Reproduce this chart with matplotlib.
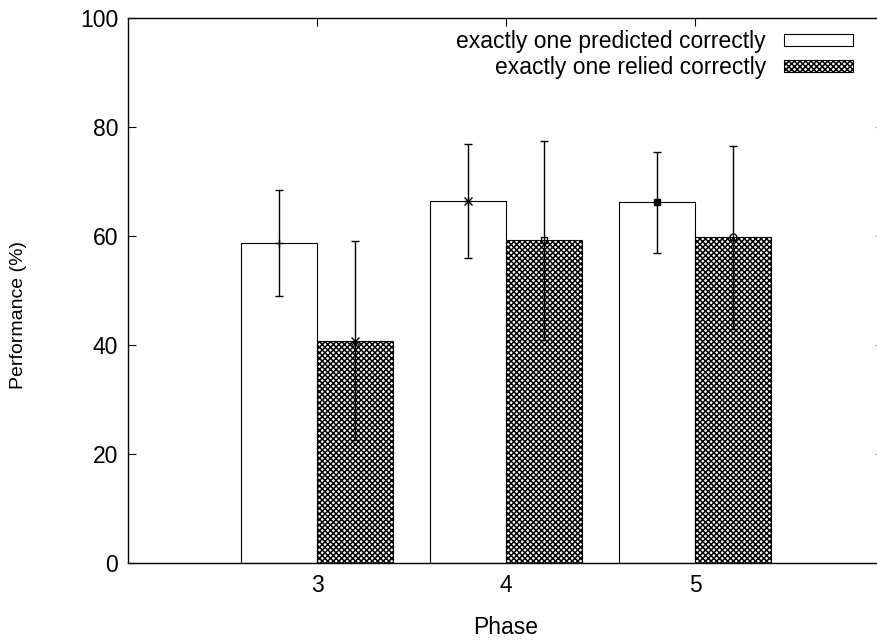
import matplotlib
matplotlib.use("Agg")
import matplotlib.pyplot as plt
import numpy as np

plt.rcParams["font.family"] = ["Liberation Sans", "DejaVu Sans"]
plt.rcParams["hatch.linewidth"] = 1.1

phases = [3, 4, 5]
series = ["exactly one predicted correctly", "exactly one relied correctly"]
predicted = [58.7, 66.4, 66.2]
predicted_err = [9.8, 10.4, 9.3]
relied = [40.8, 59.2, 59.8]
relied_err = [18.3, 18.2, 16.8]

# gnuplot-style point types, one per error bar in drawing order
point_types = [["+"], ["x"], ["+", "x"], ["s"], ["s"], ["o"]]
point_filled = [False, False, False, False, True, False]

FS = 16.5
W, H = 877, 642
fig = plt.figure(figsize=(W / 100, H / 100), dpi=100)
fig.patch.set_facecolor("white")
# the frame runs a little past the right edge of the canvas
ax = fig.add_axes([128 / W, 1 - 563 / H, 756 / W, 545 / H])

x = np.array(phases, dtype=float)
width = 0.4
ax.bar(x - width / 2, predicted, width, color="white", edgecolor="black",
       linewidth=0.8, label=series[0], zorder=2)
ax.bar(x + width / 2, relied, width, color="white", edgecolor="black",
       linewidth=0.8, hatch="xxxxxx", label=series[1], zorder=2)

centers = []
for i in range(len(phases)):
    centers.append((x[i] - width / 2, predicted[i], predicted_err[i]))
    centers.append((x[i] + width / 2, relied[i], relied_err[i]))

for k, (cx, val, err) in enumerate(centers):
    ax.errorbar([cx], [val], yerr=[err], fmt="none", ecolor="black",
                elinewidth=1.0, capsize=3, capthick=1.0, zorder=3)
    for m in point_types[k]:
        ax.plot([cx], [val], marker=m, markersize=6 if m in "+x" else 5,
                markerfacecolor="black" if point_filled[k] else "none",
                markeredgecolor="black", markeredgewidth=1.0,
                linestyle="none", zorder=4)

ax.set_xlim(2, 6)
ax.set_ylim(0, 100)
ax.set_xticks(phases)
ax.set_yticks([0, 20, 40, 60, 80, 100])
ax.tick_params(direction="in", length=6, width=0.8, top=True, right=True,
               labelsize=FS, colors="black")
ax.tick_params(axis="y", pad=7)
ax.tick_params(axis="x", pad=8)
for s in ax.spines.values():
    s.set_linewidth(1.0)

fig.text(19 / W, 1 - 315 / H, "Performance (%)", rotation=90, ha="center",
         va="center", fontsize=14)
fig.text(506 / W, 1 - 627 / H, "Phase", ha="center", va="center", fontsize=FS)

ax.legend(loc="upper right", bbox_to_anchor=(853 / W, 1 - 30 / H),
          bbox_transform=fig.transFigure, frameon=False, fontsize=FS,
          markerfirst=False, handlelength=3.0, handleheight=0.45,
          handletextpad=0.8, labelspacing=0.15, borderpad=0, borderaxespad=0)

fig.savefig("out.png", dpi=100)
